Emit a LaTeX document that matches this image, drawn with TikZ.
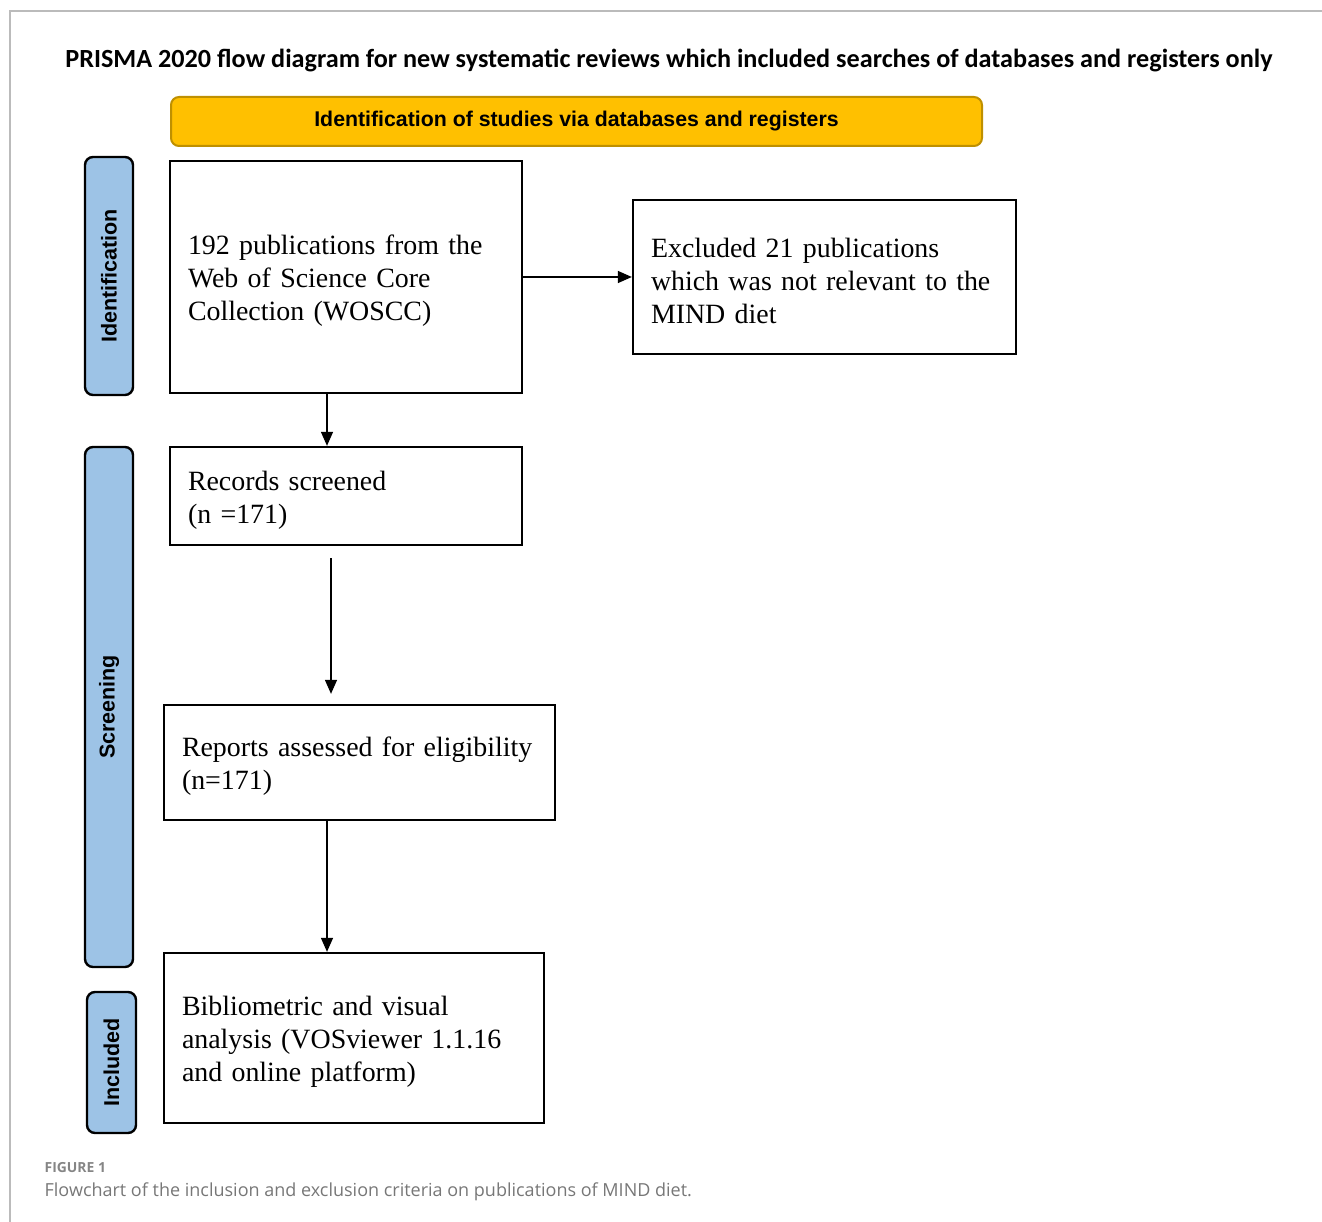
\documentclass[tikz,border=0pt]{standalone}
\usepackage{fontspec}
\setmainfont{Liberation Serif}
\setsansfont{Liberation Sans}
\newfontfamily\titlefont{Carlito}
\newfontfamily\capfont{Open Sans}
\usepackage{tikz}
\usetikzlibrary{arrows.meta}
\definecolor{headyellow}{HTML}{FFC000}
\definecolor{headborder}{HTML}{BF9000}
\definecolor{sideblue}{HTML}{9DC3E6}
\definecolor{framegray}{HTML}{BBBBBB}
\definecolor{capgray}{HTML}{777777}

\begin{document}
\begin{tikzpicture}[x=1pt,y=-1pt,->,>={Triangle[length=14pt,width=12pt]},
  line width=1.3pt,
  main node/.style={rectangle,draw,line width=2.3pt,fill=white,align=left,
    inner xsep=18pt,inner ysep=0pt,font=\fontsize{27.9}{33}\selectfont,
    execute at end node={\vspace{-8pt}}},
  side node/.style={rectangle,rounded corners=8pt,draw,line width=2.4pt,fill=sideblue,
    rotate=90,inner sep=0pt,font=\sffamily\bfseries\fontsize{21.5}{24}\selectfont},
  head node/.style={rectangle,rounded corners=8pt,draw=headborder,line width=2pt,
    fill=headyellow,font=\sffamily\bfseries\fontsize{21.3}{24}\selectfont}]
  \useasboundingbox (0,0) rectangle (1322,1222);
  \draw[-,framegray,line width=1.5pt] (1322,11) -- (10,11) -- (10,1222);

  \node (title) at (669,61) {\titlefont\bfseries\fontsize{26.2}{30}\selectfont PRISMA 2020 flow diagram for new systematic reviews which included searches of databases and registers only};
  \node[head node,minimum width=811pt,minimum height=49pt] (head) at (576.5,121.5) {Identification of studies via databases and registers};

  \node[side node,minimum width=238pt,minimum height=48pt] (ident) at (109,276) {Identification};
  \node[side node,minimum width=520pt,minimum height=48pt] (screen) at (109,707) {Screening};
  \node[side node,minimum width=141pt,minimum height=49pt] (incl) at (111.5,1062.5) {Included};

  \node[main node,text width=316pt,minimum height=232pt] (1) at (346,277) {192 publications from the\\Web of Science Core\\Collection (WOSCC)};
  \node[main node,text width=347pt,minimum height=154pt] (2) at (824.5,277) {Excluded 21 publications\\which was not relevant to the\\MIND diet};
  \node[main node,text width=316pt,minimum height=98pt] (3) at (346,496) {Records screened\\(n =171)};
  \node[main node,text width=355pt,minimum height=115pt] (4) at (359.5,762.5) {Reports assessed for eligibility\\(n=171)};
  \node[main node,text width=344pt,minimum height=170pt] (5) at (354,1038) {Bibliometric and visual\\analysis (VOSviewer 1.1.16\\and online platform)};

  \path
    (1) edge (2)
    ([xshift=-19pt]1.south) edge ([xshift=-19pt]1.south |- 3.north)
    ([xshift=-15pt]3.south) edge[shorten <=12pt,shorten >=10pt] ([xshift=-15pt]3.south |- 4.north)
    ([xshift=-32.5pt]4.south) edge ([xshift=-32.5pt]4.south |- 5.north);

  \node[anchor=west,text=capgray!90,inner sep=0pt] (fig) at (44,1168) {\capfont\bfseries\fontsize{13.9}{16}\selectfont FIGURE 1};
  \node[anchor=west,text=capgray,inner sep=0pt] (cap) at (44,1192) {\capfont\fontsize{18}{21}\selectfont Flowchart of the inclusion and exclusion criteria on publications of MIND diet.};
\end{tikzpicture}
\end{document}
